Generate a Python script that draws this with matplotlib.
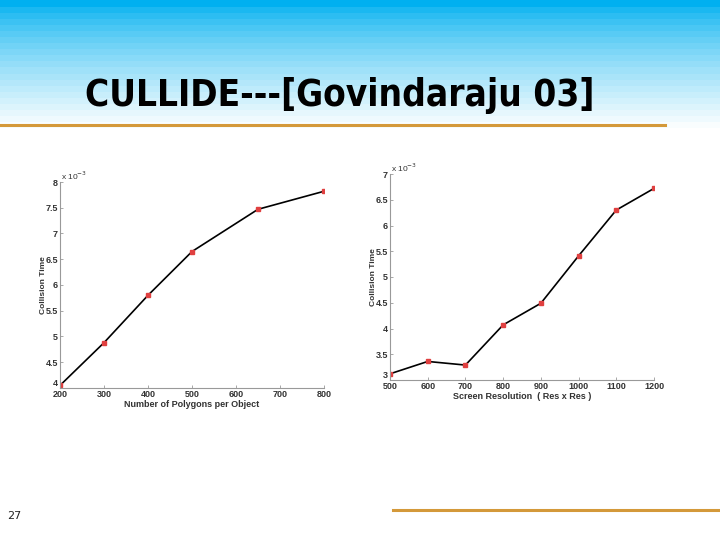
import numpy as np
import matplotlib
matplotlib.use("Agg")
import matplotlib.pyplot as plt
from matplotlib.ticker import FuncFormatter

# left chart: collision time vs polygons per object (values in 1e-3 s)
polygons = [200, 300, 400, 500, 650, 800]
time_poly = [4.05, 4.88, 5.80, 6.65, 7.47, 7.82]
poly_ticks = [200, 300, 400, 500, 600, 700, 800]
poly_yticks = [4, 4.5, 5, 5.5, 6, 6.5, 7, 7.5, 8]

# right chart: collision time vs screen resolution
resolution = [500, 600, 700, 800, 900, 1000, 1100, 1200]
time_res = [3.12, 3.36, 3.29, 4.07, 4.49, 5.41, 6.30, 6.72]
res_ticks = [500, 600, 700, 800, 900, 1000, 1100, 1200]
res_yticks = [3, 3.5, 4, 4.5, 5, 5.5, 6, 6.5, 7]

title = "CULLIDE---[Govindaraju 03]"
page_no = "27"

fig = plt.figure(figsize=(7.2, 5.4), dpi=100)
fig.patch.set_facecolor("white")

# banded blue header
bg = fig.add_axes([0, 1 - 135 / 540, 1, 135 / 540])
steps = np.floor(np.linspace(0, 1, 135) * 22) / 22
grad = np.zeros((135, 1, 3))
top = np.array([0, 176, 240]) / 255
for i, s in enumerate(steps):
    t = min(1.0, s ** 0.75 * 1.05)
    grad[i, 0] = top * (1 - t) + np.array([1, 1, 1]) * t
bg.imshow(grad, aspect="auto", extent=[0, 1, 0, 1])
bg.axis("off")

fig.text(85 / 720, 1 - 96 / 540, title, fontsize=26.5, fontweight="bold",
         family="DejaVu Sans", fontstretch="condensed", va="center", ha="left")
fig.add_artist(plt.Line2D([0, 665 / 720], [1 - 125 / 540] * 2, color="#d4993a", lw=2.2))
fig.add_artist(plt.Line2D([393 / 720, 1], [1 - 510 / 540] * 2, color="#d4993a", lw=2.2))
fig.text(7 / 720, 1 - 516 / 540, page_no, fontsize=8, color="#222222", va="center")

font = "Liberation Sans"


def draw(pos, x, y, xticks, yticks, xlabel):
    ax = fig.add_axes(pos)
    ax.plot(x, y, color="black", lw=1.2, marker="s", ms=3,
            mfc="#e04040", mec="#e04040")
    ax.set_xlim(xticks[0], xticks[-1])
    ax.set_ylim(yticks[0], yticks[-1])
    ax.set_xticks(xticks)
    ax.set_yticks(yticks)
    ax.yaxis.set_major_formatter(FuncFormatter(lambda v, p: ("%g" % v)))
    for s in ["top", "right"]:
        ax.spines[s].set_visible(False)
    for s in ["left", "bottom"]:
        ax.spines[s].set_color("#999999")
        ax.spines[s].set_linewidth(0.8)
    ax.tick_params(direction="in", length=2, width=0.6, color="#999999",
                   labelsize=6.5, labelcolor="#333333", pad=1.5)
    for lab in ax.get_xticklabels() + ax.get_yticklabels():
        lab.set_fontweight("bold")
        lab.set_family(font)
    ax.get_yticklabels()[0].set_va("bottom")
    ax.set_xlabel(xlabel, fontsize=6.5, fontweight="bold", color="#333333",
                  labelpad=1, family=font)
    ax.set_ylabel("Collision Time", fontsize=6, fontweight="bold", color="#333333",
                  labelpad=-1, family=font)
    ax.text(0.005, 1.0, "x 10$^{-3}$", transform=ax.transAxes, fontsize=6,
            color="#333333", va="bottom", ha="left", family=font)
    ax.patch.set_alpha(0)
    return ax


draw([60 / 720, 1 - 388 / 540, 264 / 720, 206 / 540], polygons, time_poly,
     poly_ticks, poly_yticks, "Number of Polygons per Object")
draw([390 / 720, 1 - 380 / 540, 264 / 720, 206 / 540], resolution, time_res,
     res_ticks, res_yticks, "Screen Resolution  ( Res x Res )")

fig.savefig("out.png", dpi=100)
